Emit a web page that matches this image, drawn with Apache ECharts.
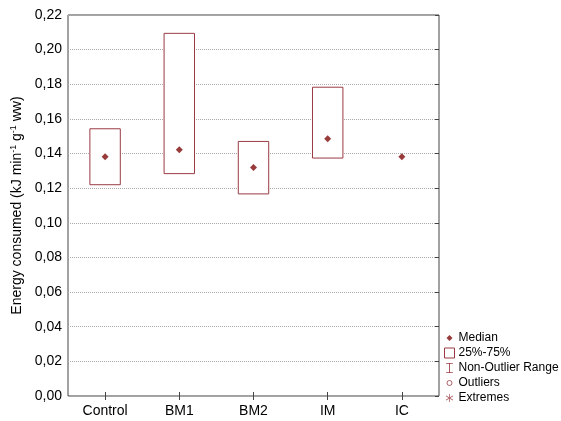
<!DOCTYPE html>
<html>
<head>
<meta charset="utf-8">
<script src="https://cdn.jsdelivr.net/npm/echarts@6/dist/echarts.min.js"></script>
<style>
  html, body { margin: 0; padding: 0; background: #fff; }
  #main { width: 561px; height: 421px; }
</style>
</head>
<body>
<div id="main"></div>
<script>
// groups and values
var categories = ["Control", "BM1", "BM2", "IM", "IC"];
var medians = [0.1382, 0.1422, 0.1320, 0.1485, 0.1382];
var q25 = [0.1220, 0.1284, 0.1167, 0.1374, 0.1382];
var q75 = [0.1543, 0.2094, 0.1470, 0.1783, 0.1382];
var legendNames = ["Median", "25%-75%", "Non-Outlier Range", "Outliers", "Extremes"];

var boxColor = "#9a3b44";
var dotColor = "#7d0a0a";
var font = "Liberation Sans, Arial, sans-serif";

var boxData = [];
for (var i = 0; i < categories.length; i++) {
	boxData.push([i, q25[i], q75[i]]);
}

function renderBox(params, api) {
	var lo = api.coord([api.value(0), api.value(1)]);
	var hi = api.coord([api.value(0), api.value(2)]);
	var w = api.size([1, 0])[0] * 0.41;
	if (Math.abs(lo[1] - hi[1]) < 0.5) return null;
	return {
		type: "rect",
		shape: { x: lo[0] - w / 2, y: hi[1], width: w, height: lo[1] - hi[1] },
		style: { fill: "#fff", stroke: boxColor, lineWidth: 1 }
	};
}

var option = {
	animation: false,
	textStyle: { fontFamily: font },
	grid: {
		left: 68, right: 122, top: 15, bottom: 25,
		show: true, borderColor: "#444", borderWidth: 1
	},
	legend: {
		orient: "vertical",
		left: 439, top: 327,
		itemWidth: 10, itemHeight: 10, itemGap: 3,
		textStyle: { fontFamily: font, fontSize: 12, color: "#000", padding: [0, 0, 0, -1] },
		data: [
			{ name: legendNames[0], icon: "path://M0,0 L0,0 M10,10 L10,10 M5,2 L8,5 L5,8 L2,5 Z", itemStyle: { color: dotColor } },
			{ name: legendNames[1], icon: "rect", itemStyle: { color: "#fff", borderColor: boxColor, borderWidth: 1 } },
			{ name: legendNames[2], icon: "path://M1,0 L9,0 L9,1 L5.5,1 L5.5,11 L9,11 L9,12 L1,12 L1,11 L4.5,11 L4.5,1 L1,1 Z",
				itemStyle: { color: boxColor } },
			{ name: legendNames[3], icon: "path://M0,0 L0,0 M10,10 L10,10 M5,2.5 A2.5,2.5 0 1,1 4.99,2.5 Z",
				itemStyle: { color: "#fff", borderColor: boxColor, borderWidth: 1 } },
			{ name: legendNames[4], icon: "path://M0,0 L0,0 M10,10 L10,10 M4.6,1 L5.4,1 L5.4,4.3 L8.3,2.6 L8.7,3.3 L5.8,5 L8.7,6.7 L8.3,7.4 L5.4,5.7 L5.4,9 L4.6,9 L4.6,5.7 L1.7,7.4 L1.3,6.7 L4.2,5 L1.3,3.3 L1.7,2.6 L4.6,4.3 Z",
				itemStyle: { color: boxColor } }
		]
	},
	xAxis: [{
		type: "category",
		data: categories,
		boundaryGap: true,
		axisLine: { show: false },
		axisTick: { show: true, inside: true, alignWithLabel: true, length: 4, lineStyle: { color: "#444" } },
		axisLabel: { color: "#000", fontSize: 14, fontFamily: font, margin: 8 },
		splitLine: { show: false }
	}, {
		type: "category",
		position: "top",
		data: categories,
		boundaryGap: true,
		axisLine: { show: false },
		axisTick: { show: true, inside: true, alignWithLabel: true, length: 4, lineStyle: { color: "#444" } },
		axisLabel: { show: false },
		splitLine: { show: false }
	}],
	yAxis: [{
		type: "value",
		min: 0, max: 0.22, interval: 0.02,
		name: "Energy consumed (kJ min{s|-1} g{s|-1} ww)",
		nameLocation: "middle",
		nameGap: 40,
		nameTextStyle: {
			color: "#000", fontSize: 14, fontFamily: font,
			rich: { s: { fontSize: 9, verticalAlign: "top", padding: [0, 0, 6, 0], color: "#000" } }
		},
		axisLine: { show: false },
		axisTick: { show: false },
		axisLabel: {
			color: "#000", fontSize: 14, fontFamily: font, margin: 6,
			formatter: function (v) { return v.toFixed(2).replace(".", ","); }
		},
		splitLine: { show: true, lineStyle: { color: "#aaa", type: "dotted", width: 1 } }
	}, {
		type: "value",
		position: "right",
		min: 0, max: 0.22, interval: 0.02,
		axisLine: { show: false },
		axisTick: { show: true, inside: true, length: 4, lineStyle: { color: "#444" } },
		axisLabel: { show: false },
		splitLine: { show: false }
	}],
	series: [{
		name: "25%-75%",
		type: "custom",
		renderItem: renderBox,
		encode: { x: 0, y: [1, 2] },
		itemStyle: { color: boxColor },
		data: boxData,
		z: 2
	}, {
		name: "Median",
		type: "scatter",
		symbol: "diamond",
		symbolSize: 7,
		itemStyle: { color: dotColor },
		data: medians,
		z: 3
	}, {
		name: "Non-Outlier Range", type: "line", data: []
	}, {
		name: "Outliers", type: "scatter", data: []
	}, {
		name: "Extremes", type: "scatter", data: []
	}]
};

var myChart = echarts.init(document.getElementById("main"));
myChart.setOption(option);
</script>
</body>
</html>
